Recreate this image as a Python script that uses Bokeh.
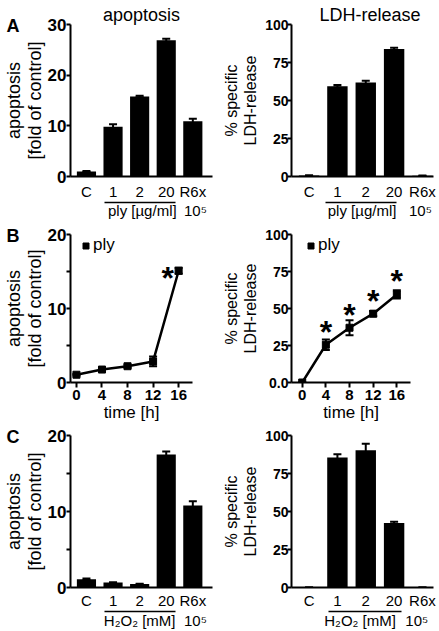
from bokeh.plotting import figure
from bokeh.models import (Range1d, FixedTicker, LinearAxis, Whisker, TeeHead,
                          ColumnDataSource, Legend, LegendItem, Title)
from bokeh.layouts import column, row
from bokeh.embed import file_html
from bokeh.resources import INLINE
from bokeh.core.properties import value

FONT = "Liberation Sans"

# ---------------- data ----------------
bar_categories = ["C", "1", "2", "20", "R6x"]
a_apop = [1.0, 9.8, 15.8, 26.9, 10.9]
a_apop_err = [0.1, 0.5, 0.15, 0.3, 0.5]
a_ldh = [0.6, 59.4, 61.8, 83.8, 0.5]
a_ldh_err = [0.2, 0.8, 1.2, 0.9, 0.2]

time_h = [0, 4, 8, 12, 16]
b_apop = [1.05, 1.75, 2.2, 2.85, 15.1]
b_apop_err = [0.1, 0.15, 0.2, 0.65, 0.4]
b_apop_sig = [False, False, False, False, True]
b_ldh = [0.0, 25.5, 37.0, 46.5, 59.5]
b_ldh_err = [0.0, 3.5, 5.0, 1.8, 2.8]
b_ldh_sig = [False, True, True, True, True]

c_apop = [1.1, 0.65, 0.45, 17.5, 10.8]
c_apop_err = [0.1, 0.05, 0.05, 0.4, 0.55]
c_ldh = [0.0, 85.5, 90.3, 42.5, 0.0]
c_ldh_err = [0.0, 2.2, 4.3, 0.8, 0.0]

ticks_30 = [0, 10, 20, 30]
ticks_20 = [0, 5, 10, 15, 20]
labels_20 = {5: "", 15: ""}
ticks_100 = [0, 25, 50, 75, 100]
time_ticks = [0, 4, 8, 12, 16]

ply_label = "ply [µg/ml]"
h2o2_label = "H₂O₂ [mM]"
r6x_label = "10⁵"
apop_ylabel = "apoptosis\n[fold of control]"
ldh_ylabel = "% specific\nLDH-release"

LEFT_Y = dict(tick=17, label=18, lh=1.05, std=0, tstd=0)
RIGHT_Y = dict(tick=14, label=16, lh=1.1, std=3, tstd=-1)


def style_axis(ax, size, bold):
    ax.axis_line_width = 2
    ax.axis_line_color = "black"
    ax.major_tick_line_width = 2
    ax.major_tick_line_color = "black"
    ax.minor_tick_line_color = None
    ax.major_tick_in = 0
    ax.minor_tick_in = 0
    ax.minor_tick_out = 0
    ax.major_label_text_font = FONT
    ax.major_label_text_font_size = f"{size}px"
    ax.major_label_text_font_style = "bold" if bold else "normal"
    ax.major_label_text_color = "black"
    ax.axis_label_text_font = FONT
    ax.axis_label_text_font_style = "normal"
    ax.axis_label_text_color = "black"


def make_fig(width, height, mb, xr, ymax):
    p = figure(width=width, height=height, x_range=Range1d(*xr), y_range=Range1d(0, ymax),
               output_backend="svg", toolbar_location=None,
               min_border_left=mb[0], min_border_right=mb[1],
               min_border_top=mb[2], min_border_bottom=mb[3], title=None)
    p.xgrid.visible = False
    p.ygrid.visible = False
    p.outline_line_color = None
    p.background_fill_color = "white"
    p.border_fill_color = "white"
    return p


def style_y(p, yticks, overrides, ylabel, cfg):
    ya = p.yaxis[0]
    ya.ticker = FixedTicker(ticks=yticks)
    ya.major_label_overrides = overrides
    style_axis(ya, cfg["tick"], True)
    ya.major_tick_out = 4
    ya.major_label_standoff = cfg["tstd"]
    ya.axis_label = ylabel
    ya.axis_label_text_font_size = f"{cfg['label']}px"
    ya.axis_label_text_line_height = cfg["lh"]
    ya.axis_label_standoff = cfg["std"]


def add_titles(p, letter, letter_offset, title=None, title_align="center", title_offset=0):
    if letter:
        p.add_layout(Title(text=letter, text_font=FONT, text_font_size="18px",
                           text_font_style="bold", text_color="black", align="left",
                           offset=letter_offset, standoff=-22), "above")
    if title:
        p.add_layout(Title(text=title, text_font=FONT, text_font_size="18px",
                           text_font_style="normal", text_color="black", align=title_align,
                           offset=title_offset, standoff=0), "above")


def bar_panel(width, height, mb, xr, ymax, yticks, yover, ylabel, ycfg, values, errors,
              under, grp_ticks, grp_label, xlab_size, std1, std3,
              title=None, title_align="center", title_offset=0, letter=None, letter_offset=0):
    p = make_fig(width, height, mb, xr, ymax)
    xs = list(range(len(bar_categories)))
    p.vbar(x=xs, top=values, width=0.72, fill_color="black", line_color=None)
    src = ColumnDataSource(dict(x=xs,
                                upper=[v + e for v, e in zip(values, errors)],
                                lower=[v - e for v, e in zip(values, errors)]))
    p.add_layout(Whisker(base="x", upper="upper", lower="lower", source=src,
                         line_width=2, line_color="black",
                         upper_head=TeeHead(size=8, line_width=2, line_color="black"),
                         lower_head=TeeHead(size=8, line_width=2, line_color="black")))
    xa = p.xaxis[0]
    xa.ticker = FixedTicker(ticks=xs)
    xa.major_label_overrides = {i: c for i, c in enumerate(bar_categories)}
    style_axis(xa, xlab_size, False)
    xa.major_tick_out = 0
    xa.major_tick_line_color = None
    xa.major_label_standoff = std1

    ul = LinearAxis(bounds=under, ticker=FixedTicker(ticks=[]))
    style_axis(ul, xlab_size, False)
    ul.axis_line_width = 1.5
    ul.major_tick_out = 0
    ul.major_tick_line_color = None
    ul.major_label_standoff = 0
    p.add_layout(ul, "below")

    ga = LinearAxis(ticker=FixedTicker(ticks=grp_ticks))
    style_axis(ga, xlab_size, False)
    ga.major_label_overrides = {grp_ticks[0]: grp_label, grp_ticks[1]: r6x_label}
    ga.axis_line_color = None
    ga.major_tick_line_color = None
    ga.major_tick_out = 0
    ga.major_label_standoff = std3
    p.add_layout(ga, "below")

    style_y(p, yticks, yover, ylabel, ycfg)
    add_titles(p, letter, letter_offset, title, title_align, title_offset)
    return p


def time_panel(width, height, mb, xr, ymax, yticks, yover, ylabel, ycfg, values, errors,
               sig, legend_loc, star_off, letter=None, letter_offset=0):
    p = make_fig(width, height, mb, xr, ymax)
    p.line(time_h, values, line_width=2.5, line_color="black")
    src = ColumnDataSource(dict(x=time_h,
                                upper=[v + e for v, e in zip(values, errors)],
                                lower=[v - e for v, e in zip(values, errors)]))
    p.add_layout(Whisker(base="x", upper="upper", lower="lower", source=src,
                         line_width=2, line_color="black",
                         upper_head=TeeHead(size=8, line_width=2, line_color="black"),
                         lower_head=TeeHead(size=8, line_width=2, line_color="black")))
    sc = p.scatter(time_h, values, marker="square", size=7, fill_color="black", line_color="black")
    sx = [t for t, s in zip(time_h, sig) if s]
    sy = [v for v, s in zip(values, sig) if s]
    p.text(x=sx, y=sy, text=["*"] * len(sx), text_font=value(FONT), text_font_size="32px",
           text_font_style="bold", text_align="center", text_baseline="alphabetic",
           text_color="black", x_offset=star_off[0], y_offset=star_off[1])
    leg = Legend(items=[LegendItem(label="ply", renderers=[sc])], location=legend_loc,
                 padding=0, margin=0, spacing=0, glyph_width=15, glyph_height=15,
                 label_standoff=0, label_height=15, label_width=28,
                 label_text_font=FONT, label_text_font_size="17px", label_text_color="black",
                 border_line_color=None, background_fill_alpha=0)
    p.add_layout(leg)

    xa = p.xaxis[0]
    xa.ticker = FixedTicker(ticks=time_ticks)
    style_axis(xa, 15, True)
    xa.major_tick_out = 5
    xa.major_label_standoff = 2
    xa.axis_label = "time [h]"
    xa.axis_label_text_font_size = "17px"
    xa.axis_label_standoff = 0

    style_y(p, yticks, yover, ylabel, ycfg)
    add_titles(p, letter, letter_offset)
    return p


W_L, W_R = 220, 219
H_A, H_B, H_C = 221, 205, 205

a1 = bar_panel(W_L, H_A, (69, 8, 24, 43), (-0.6, 4.74), 30, ticks_30, {}, apop_ylabel, LEFT_Y,
               a_apop, a_apop_err, (0.67, 3.36), [2.1, 4.1], ply_label, 15, 6, -1,
               title="apoptosis", letter="A", letter_offset=-64)
a2 = bar_panel(W_R, H_A, (68, 6, 24, 43), (-0.62, 4.39), 100, ticks_100, {}, ldh_ylabel, RIGHT_Y,
               a_ldh, a_ldh_err, (0.58, 3.08), [1.87, 3.93], ply_label, 15, 6, -1,
               title="LDH-release", title_align="left", title_offset=28)
b1 = time_panel(W_L, H_B, (69, 28, 13, 44), (-0.93, 18.17), 20, ticks_20, labels_20, apop_ylabel,
                LEFT_Y, b_apop, b_apop_err, b_apop_sig, (8, 127), (-11, 7.5),
                letter="B", letter_offset=-64)
b2 = time_panel(W_R, H_B, (68, 29, 13, 44), (-1.81, 18.31), 100, ticks_100, {0: "0.0"}, ldh_ylabel,
                RIGHT_Y, b_ldh, b_ldh_err, b_ldh_sig, (12, 127), (0, -13))
c1 = bar_panel(W_L, H_C, (69, 8, 9, 42), (-0.6, 4.74), 20, ticks_20, labels_20, apop_ylabel, LEFT_Y,
               c_apop, c_apop_err, (0.67, 3.36), [2.0, 4.1], h2o2_label, 15, 4, 0,
               letter="C", letter_offset=-64)
c2 = bar_panel(W_R, H_C, (68, 6, 9, 42), (-0.62, 4.39), 100, ticks_100, {}, ldh_ylabel, RIGHT_Y,
               c_ldh, c_ldh_err, (0.69, 3.25), [1.8, 3.8], h2o2_label, 15, 4, 0)

layout = column(row(a1, a2), row(b1, b2), row(c1, c2))
open("out.html", "w").write(file_html(layout, INLINE, title="apoptosis and LDH-release"))
